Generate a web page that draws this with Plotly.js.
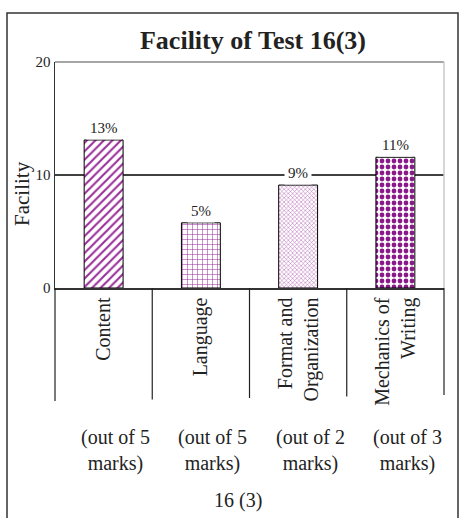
<!DOCTYPE html>
<html>
<head>
<meta charset="utf-8">
<script src="https://cdn.plot.ly/plotly-3.0.1.min.js"></script>
<style>html,body{margin:0;padding:0;background:#fff;}#chart{width:459px;height:518px;}</style>
</head>
<body>
<div id="chart"></div>
<script>
const categories = ["Content", "Language", "Format and Organization", "Mechanics of Writing"];
const tickLabels = ["Content", "Language", "Format and<br>Organization", "Mechanics of<br>Writing"];
const facility = [13.1, 5.77, 9.11, 11.57];
const valueLabels = ["13%", "5%", "9%", "11%"];
const marksNotes = ["(out of 5<br>marks)", "(out of 5<br>marks)", "(out of 2<br>marks)", "(out of 3<br>marks)"];
const yTicks = [0, 10, 20];
const chartTitle = "Facility of Test 16(3)";
const yTitle = "Facility";
const xTitle = "16 (3)";

const FONT = "Liberation Serif, Times New Roman, serif";
const W = 459, H = 518, L = 55, R = 15, T = 62, B = 230;
const pw = W - L - R, ph = H - T - B;
const px = v => (v - L) / pw;
const py = v => (H - B - v) / ph;

const trace = {
  type: "bar",
  x: categories,
  y: facility,
  width: 0.4,
  marker: {
    color: "#ffffff",
    line: {color: "#000000", width: 1},
    pattern: {
      shape: ["/", "+", "x", "."],
      fgcolor: ["#9a2f9a", "#9a2f9a", "#b060b0", "#8a1a8a"],
      bgcolor: "#ffffff",
      size: [6, 5, 3, 6],
      solidity: [0.35, 0.2, 0.3, 0.5],
      fillmode: "replace"
    }
  },
  hoverinfo: "none"
};

const annotations = [];
categories.forEach((c, i) => {
  annotations.push({
    x: c, y: facility[i], xref: "x", yref: "y",
    text: valueLabels[i], showarrow: false, xanchor: "center", yanchor: "bottom", yshift: 0,
    bgcolor: "#ffffff", borderpad: 3,
    font: {family: FONT, size: 15, color: "#222"}
  });
  annotations.push({
    x: c, y: py(450), xref: "x", yref: "paper",
    text: marksNotes[i], showarrow: false, xanchor: "center", yanchor: "middle", xshift: 12,
    font: {family: FONT, size: 20, color: "#222"}
  });
});
annotations.push({
  x: px(238), y: py(500), xref: "paper", yref: "paper", xanchor: "center", yanchor: "middle",
  text: xTitle, showarrow: false, font: {family: FONT, size: 20, color: "#222"}
});
annotations.push({
  x: px(22), y: py(194), xref: "paper", yref: "paper", textangle: -90, xanchor: "center", yanchor: "middle",
  text: yTitle, showarrow: false, font: {family: FONT, size: 21, color: "#222"}
});

const shapes = [];
shapes.push({type: "line", xref: "paper", yref: "y", x0: 0, x1: 1, y0: yTicks[1], y1: yTicks[1],
  line: {color: "#000", width: 1.3}, layer: "below"});
for (let i = 0; i <= categories.length; i++) {
  shapes.push({type: "line", xref: "paper", yref: "paper", x0: i / categories.length, x1: i / categories.length,
    y0: 0, y1: py(401 - i * 1.5), line: {color: "#222", width: 1.2}});
}
shapes.push({type: "line", xref: "paper", yref: "paper", x0: 0, x1: 1, y0: 1, y1: 1, line: {color: "#888", width: 1.5}});
shapes.push({type: "line", xref: "paper", yref: "paper", x0: 1, x1: 1, y0: 0, y1: 1, line: {color: "#c8c8c8", width: 1.5}});
shapes.push({type: "rect", xref: "paper", yref: "paper", x0: px(7), x1: px(458), y0: py(525), y1: py(13),
  line: {color: "#333", width: 1.5}, fillcolor: "rgba(0,0,0,0)"});

const layout = {
  width: W, height: H,
  margin: {l: L, r: R, t: T, b: B, pad: 0},
  paper_bgcolor: "#fff", plot_bgcolor: "#fff",
  showlegend: false,
  title: {text: "<b>" + chartTitle + "</b>", x: 253 / W, xanchor: "center", y: 1 - 40 / H, yanchor: "middle",
    font: {family: FONT, size: 26, color: "#222"}},
  xaxis: {
    type: "category", categoryarray: categories, tickvals: categories, ticktext: tickLabels,
    range: [-0.5, categories.length - 0.5], tickangle: -90, ticks: "",
    showline: true, linecolor: "#333", linewidth: 1.5, showgrid: false, zeroline: false,
    tickfont: {family: FONT, size: 20, color: "#222"}
  },
  yaxis: {
    range: [0, 20], tickvals: yTicks, ticks: "", showgrid: false, zeroline: false,
    showline: true, linecolor: "#333", linewidth: 1.5,
    tickfont: {family: FONT, size: 15, color: "#222"}
  },
  annotations: annotations,
  shapes: shapes
};

Plotly.newPlot("chart", [trace], layout, {displayModeBar: false, staticPlot: true});
</script>
</body>
</html>
